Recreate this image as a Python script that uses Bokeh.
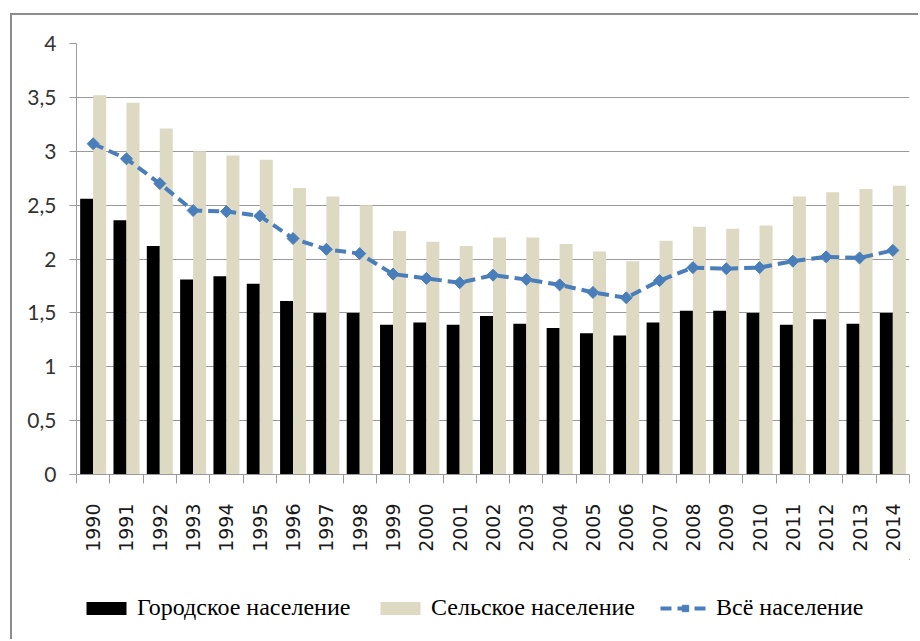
import math
from bokeh.plotting import figure
from bokeh.layouts import column
from bokeh.models import (Range1d, FixedTicker, Legend, LegendItem)
from bokeh.embed import file_html
from bokeh.resources import INLINE

years = ["1990", "1991", "1992", "1993", "1994", "1995", "1996", "1997", "1998",
         "1999", "2000", "2001", "2002", "2003", "2004", "2005", "2006", "2007",
         "2008", "2009", "2010", "2011", "2012", "2013", "2014"]
urban = [2.56, 2.36, 2.12, 1.81, 1.84, 1.77, 1.61, 1.50, 1.50, 1.39, 1.41, 1.39,
         1.47, 1.40, 1.36, 1.31, 1.29, 1.41, 1.52, 1.52, 1.50, 1.39, 1.44, 1.40, 1.50]
rural = [3.52, 3.45, 3.21, 3.00, 2.96, 2.92, 2.66, 2.58, 2.50, 2.26, 2.16, 2.12,
         2.20, 2.20, 2.14, 2.07, 1.98, 2.17, 2.30, 2.28, 2.31, 2.58, 2.62, 2.65, 2.68]
total = [3.07, 2.93, 2.70, 2.45, 2.44, 2.40, 2.19, 2.09, 2.05, 1.86, 1.82, 1.78,
         1.85, 1.81, 1.76, 1.69, 1.64, 1.80, 1.92, 1.91, 1.92, 1.98, 2.02, 2.01, 2.08]
y_ticks = [0, 0.5, 1, 1.5, 2, 2.5, 3, 3.5, 4]
y_tick_labels = ["0", "0,5", "1", "1,5", "2", "2,5", "3", "3,5", "4"]
series_names = ["Городское население", "Сельское население", "Всё население"]

xs = list(range(len(years)))
bw = 0.39

grey = "#9a9a9a"
c_urban = "black"
c_rural = "#ddd9c3"
c_total = "#4a7ebb"

p = figure(width=906, height=544, output_backend="svg", toolbar_location=None,
           x_range=Range1d(-0.5, len(years) - 0.5), y_range=Range1d(0, 4),
           min_border_left=64, min_border_right=9, min_border_top=28,
           min_border_bottom=85)
p.outline_line_color = None
p.background_fill_color = "white"
p.border_fill_color = "white"

p.vbar(x=[x - bw / 2 for x in xs], top=urban, width=bw, bottom=0,
       fill_color=c_urban, line_color=None)
p.vbar(x=[x + bw / 2 for x in xs], top=rural, width=bw, bottom=0,
       fill_color=c_rural, line_color=None)
p.line(xs, total, line_color=c_total, line_width=4, line_dash="11 6")
p.scatter(xs, total, marker="square", angle=math.pi / 4, size=8.5,
          fill_color=c_total, line_color=c_total)

# x axis
xa = p.xaxis[0]
xa.ticker = FixedTicker(ticks=xs, minor_ticks=[x - 0.5 for x in xs] + [len(xs) - 0.5])
xa.major_label_overrides = {x: y for x, y in zip(xs, years)}
xa.major_label_orientation = math.pi / 2
xa.major_tick_out = 0
xa.major_tick_in = 0
xa.minor_tick_out = 9
xa.minor_tick_in = 0
xa.minor_tick_line_color = grey
xa.axis_line_color = grey
xa.major_label_standoff = 20
xa.major_label_text_font = "DejaVu Sans"
xa.major_label_text_font_size = "19px"
xa.major_label_text_color = "#1a1a1a"

# y axis
ya = p.yaxis[0]
ya.ticker = FixedTicker(ticks=y_ticks, minor_ticks=[])
ya.major_label_overrides = {t: l for t, l in zip(y_ticks, y_tick_labels)}
ya.major_tick_out = 7
ya.major_tick_in = 0
ya.major_tick_line_color = grey
ya.minor_tick_line_color = None
ya.axis_line_color = grey
ya.major_label_standoff = 13
ya.major_label_text_font = "Lato"
ya.major_label_text_font_size = "21px"
ya.major_label_text_color = "#333333"

p.xgrid.visible = False
p.ygrid.ticker = FixedTicker(ticks=y_ticks)
p.ygrid.grid_line_color = grey
p.ygrid.grid_line_width = 1

# legend strip (its sample glyphs lie outside the visible range; only the legend shows)
q = figure(width=906, height=80, output_backend="svg", toolbar_location=None,
           x_range=Range1d(-100, -99), y_range=Range1d(-100, -99),
           x_axis_location=None, y_axis_location=None,
           min_border_left=0, min_border_right=0, min_border_top=0,
           min_border_bottom=0)
q.grid.visible = False
q.outline_line_color = None
q.border_fill_color = "white"
q.background_fill_color = "white"
lr_urban = q.vbar(x=xs, top=urban, width=bw, fill_color=c_urban, line_color=None)
lr_rural = q.vbar(x=xs, top=rural, width=bw, fill_color=c_rural, line_color=None)
lr_line = q.line(xs, total, line_color=c_total, line_width=4, line_dash="11 6")
lr_pts = q.scatter(xs, total, marker="square", angle=math.pi / 4, size=8.5,
                   fill_color=c_total, line_color=c_total)

legend_specs = [
    (series_names[0], [lr_urban], 5),
    (series_names[1], [lr_rural], 299),
    (series_names[2], [lr_line, lr_pts], 584),
]
for name, rends, vx in legend_specs:
    lg = Legend(items=[LegendItem(label=name, renderers=rends)],
                location=(vx, 18), orientation="horizontal",
                glyph_width=50, glyph_height=16, label_standoff=6,
                padding=0, margin=0, border_line_color=None,
                background_fill_alpha=0,
                label_text_font="Liberation Serif", label_text_font_size="24px",
                label_text_color="black")
    q.add_layout(lg, "center")

page = column(p, q, spacing=0)
page.styles = {"margin-left": "10px", "margin-top": "13px",
               "border-left": "2px solid #8c8c8c", "border-top": "2px solid #8c8c8c"}

open("out.html", "w").write(file_html(page, INLINE))
